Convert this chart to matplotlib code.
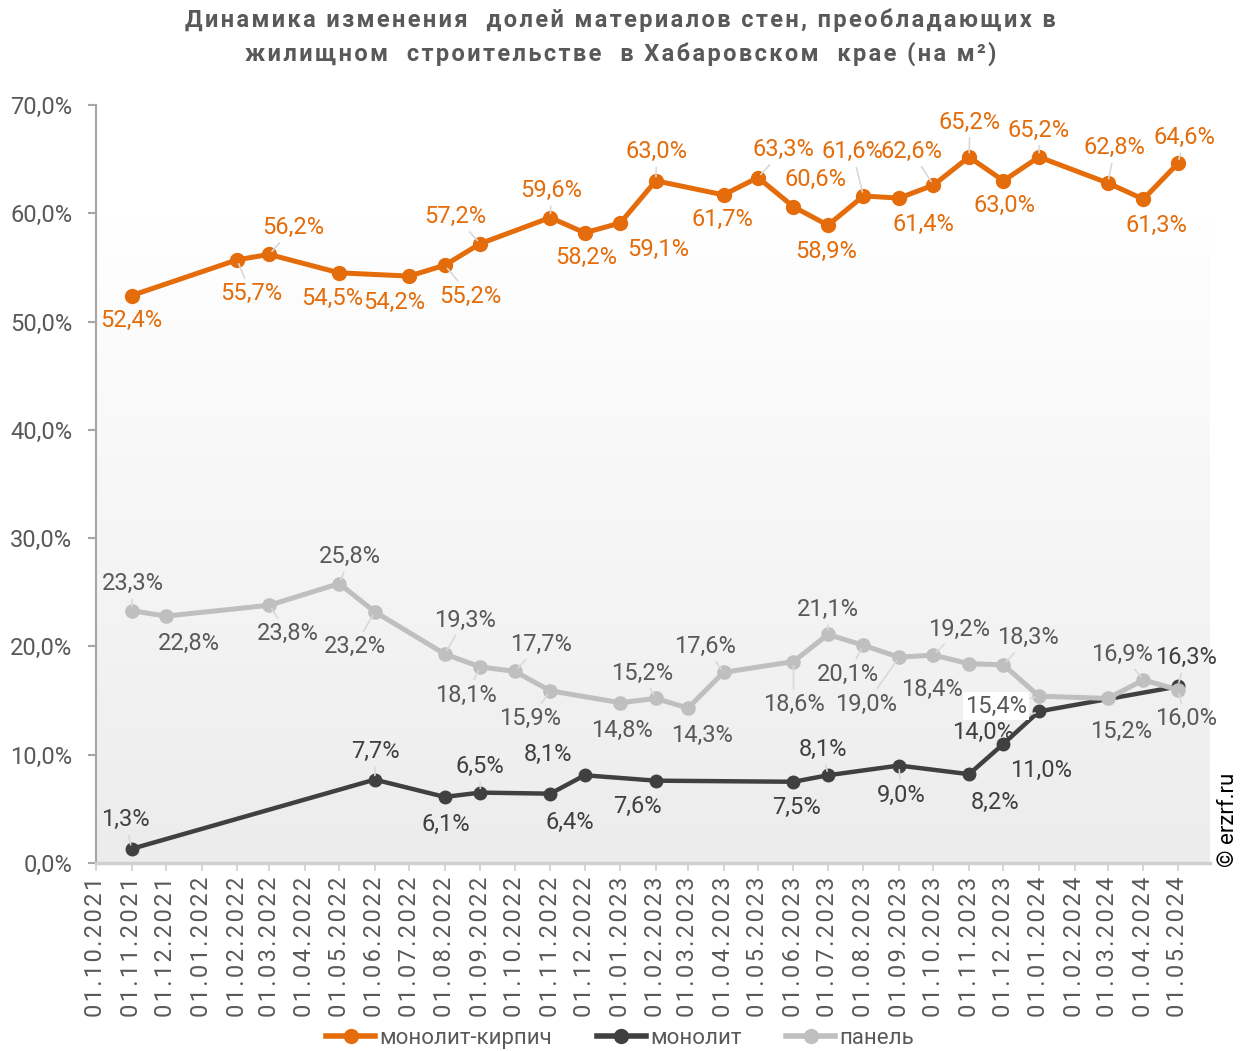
import matplotlib
matplotlib.use("Agg")
import matplotlib.pyplot as plt
import matplotlib.dates as mdates
from matplotlib.colors import LinearSegmentedColormap
from matplotlib.lines import Line2D
import numpy as np
from datetime import datetime

plt.rcParams['font.family'] = ['Roboto', 'DejaVu Sans']

# --- data ---
brick_dates = ["01.11.2021", "01.02.2022", "01.03.2022", "01.05.2022", "01.07.2022", "01.08.2022",
               "01.09.2022", "01.11.2022", "01.12.2022", "01.01.2023", "01.02.2023", "01.04.2023",
               "01.05.2023", "01.06.2023", "01.07.2023", "01.08.2023", "01.09.2023", "01.10.2023",
               "01.11.2023", "01.12.2023", "01.01.2024", "01.03.2024", "01.04.2024", "01.05.2024"]
brick_vals = [52.4, 55.7, 56.2, 54.5, 54.2, 55.2, 57.2, 59.6, 58.2, 59.1, 63.0, 61.7,
              63.3, 60.6, 58.9, 61.6, 61.4, 62.6, 65.2, 63.0, 65.2, 62.8, 61.3, 64.6]

mono_dates = ["01.11.2021", "01.06.2022", "01.08.2022", "01.09.2022", "01.11.2022", "01.12.2022",
              "01.02.2023", "01.06.2023", "01.07.2023", "01.09.2023", "01.11.2023", "01.12.2023",
              "01.01.2024", "01.05.2024"]
mono_vals = [1.3, 7.7, 6.1, 6.5, 6.4, 8.1, 7.6, 7.5, 8.1, 9.0, 8.2, 11.0, 14.0, 16.3]

panel_dates = ["01.11.2021", "01.12.2021", "01.03.2022", "01.05.2022", "01.06.2022", "01.08.2022",
               "01.09.2022", "01.10.2022", "01.11.2022", "01.01.2023", "01.02.2023", "01.03.2023",
               "01.04.2023", "01.06.2023", "01.07.2023", "01.08.2023", "01.09.2023", "01.10.2023",
               "01.11.2023", "01.12.2023", "01.01.2024", "01.03.2024", "01.04.2024", "01.05.2024"]
panel_vals = [23.3, 22.8, 23.8, 25.8, 23.2, 19.3, 18.1, 17.7, 15.9, 14.8, 15.2, 14.3,
              17.6, 18.6, 21.1, 20.1, 19.0, 19.2, 18.4, 18.3, 15.4, 15.2, 16.9, 16.0]

series_names = ["монолит-кирпич", "монолит", "панель"]
title_lines = ["Динамика изменения  долей материалов стен, преобладающих в",
               "жилищном  строительстве  в Хабаровском  крае (на м²)"]

# label placement (pixel offsets from point, y down) and leader lines
brick_off = [(0, 25), (14, 34), (24, -27), (-7, 26), (-15, 26), (26, 31), (-25, -27), (1, -27),
             (1, 25), (38, 26), (1, -29), (-1, 25), (26, -28), (22, -27), (-2, 26), (-11, -44),
             (24, 26), (-22, -34), (1, -35), (1, 25), (0, -27), (7, -35), (13, 26), (7, -26)]
brick_lead = [0, 1, 1, 0, 0, 1, 1, 1, 0, 0, 1, 0, 1, 0, 0, 1, 0, 1, 1, 0, 1, 1, 0, 1]
mono_off = [(-6, -29), (1, -28), (1, 28), (0, -26), (20, 29), (-37, -21), (-18, 26), (3, 26),
            (-5, -26), (2, 30), (26, 28), (38, 27), (-56, 21), (8, -29)]
mono_lead = [1, 1, 0, 1, 0, 0, 0, 0, 1, 1, 0, 0, 1, 1]
panel_off = [(1, -27), (23, 27), (19, 28), (11, -27), (-20, 35), (20, -34), (-14, 28), (26, -27),
             (-20, 28), (2, 28), (-14, -25), (14, 27), (-19, -26), (0, 43), (0, -25), (-16, 29),
             (-33, 47), (26, -26), (-37, 26), (25, -27), (-43, 10), (13, 33), (-21, -26), (8, 29)]
panel_lead = [1, 0, 1, 1, 1, 1, 1, 1, 1, 0, 1, 0, 1, 1, 1, 1, 1, 1, 0, 1, 1, 0, 1, 1]

colors = ["#E46C0A", "#404040", "#BFBFBF"]
text_colors = ["#E46C0A", "#404040", "#595959"]
gray = "#595959"
HS = "\u200a"  # hair space used as letter spacing


def to_dates(lst):
    return [datetime.strptime(s, "%d.%m.%Y") for s in lst]


def spaced(s):
    return HS.join(s)


fig = plt.figure(figsize=(12.48, 10.51), dpi=100)
ax = fig.add_axes([0.0769, 0.1789, 0.8926, 0.7212])

x0 = mdates.date2num(datetime(2021, 10, 1))
x1 = mdates.date2num(datetime(2024, 5, 29))
ax.set_xlim(x0, x1)
ax.set_ylim(0, 70)

# gradient background: white at top, light gray at bottom
cmap = LinearSegmentedColormap.from_list("bg", [(0, "#ffffff"), (0.15, "#ffffff"), (1, "#ececec")])
grad = np.linspace(0, 1, 256).reshape(-1, 1)
ax.imshow(grad, extent=[x0, x1, 0, 70], aspect="auto", cmap=cmap, vmin=0, vmax=1,
          origin="upper", zorder=0)

all_series = [(brick_dates, brick_vals, brick_off, brick_lead, 3.6, 10),
              (mono_dates, mono_vals, mono_off, mono_lead, 3.2, 9),
              (panel_dates, panel_vals, panel_off, panel_lead, 3.6, 9.5)]

for i, (d, v, offs, leads, lw, ms) in enumerate(all_series):
    dd = to_dates(d)
    ax.plot(dd, v, color=colors[i], lw=lw, marker="o", ms=ms, zorder=3 + i)
    for xx, yy, (dx, dy), ld in zip(dd, v, offs, leads):
        txt = f"{yy:.1f}%".replace(".", ",")
        kw = {}
        if ld:
            kw["arrowprops"] = dict(arrowstyle="-", color="#d9d9d9", lw=1.2, shrinkA=1, shrinkB=3)
        if i == 2 and txt == "15,4%":
            kw["bbox"] = dict(boxstyle="square,pad=0.1", fc="white", ec="none")
        ax.annotate(txt, xy=(xx, yy), xytext=(dx * 0.72, -dy * 0.72),
                    textcoords="offset points", ha="center", va="center", fontsize=17,
                    color=text_colors[i], zorder=10, **kw)

# axes styling
for s in ["top", "right"]:
    ax.spines[s].set_visible(False)
ax.spines["left"].set_color("#a6a6a6")
ax.spines["left"].set_linewidth(1.5)
ax.spines["bottom"].set_color("#d0d0d0")
ax.spines["bottom"].set_linewidth(2.5)

yt = np.arange(0, 71, 10)
ax.set_yticks(yt)
ax.set_yticklabels([f"{t:.1f}%".replace(".", ",") for t in yt])
ax.tick_params(axis="y", length=6, width=1.5, color="#a6a6a6", labelsize=17, labelcolor=gray, pad=11)

ax.xaxis.set_major_locator(mdates.MonthLocator())
ticks = ax.get_xticks()
ax.set_xticks(ticks)
ax.set_xticklabels([spaced(mdates.num2date(t).strftime("%d.%m.%Y")) for t in ticks], rotation=90)
ax.tick_params(axis="x", length=6, width=1.2, color="#d0d0d0", labelsize=17, labelcolor=gray, pad=4)

fig.text(0.497, 0.981, spaced(title_lines[0]), ha="center", va="center", fontsize=17,
         fontweight="bold", color=gray)
fig.text(0.497, 0.949, spaced(title_lines[1]), ha="center", va="center", fontsize=17,
         fontweight="bold", color=gray)

handles = [Line2D([0], [0], color=colors[i], lw=4, marker="o", ms=10) for i in range(3)]
fig.legend(handles, series_names, loc="center", bbox_to_anchor=(0.497, 0.012), ncol=3,
           frameon=False, fontsize=16, labelcolor=gray, handlelength=2.2, handletextpad=0.2,
           columnspacing=2.0)

fig.text(0.984, 0.175, "© erzrf.ru", rotation=90, ha="center", va="bottom", fontsize=16, color="black")

fig.savefig("out.png", dpi=100)
